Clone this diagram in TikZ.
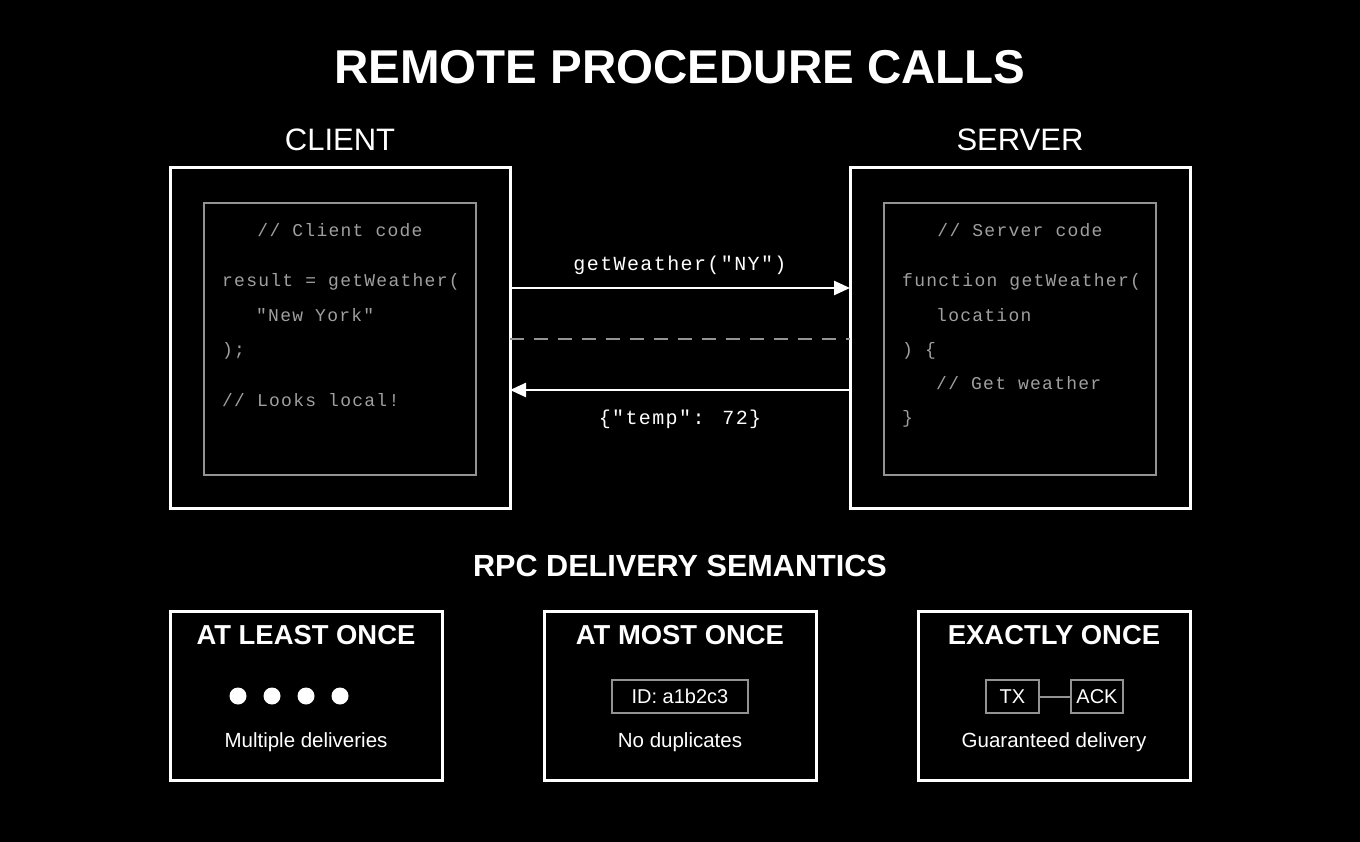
\documentclass[tikz,border=0pt]{standalone}
\usepackage{fontspec}
\setmainfont{Liberation Sans}
\newfontfamily\codefont[LetterSpace=7]{Liberation Mono}
\usetikzlibrary{arrows.meta}
\begin{document}
\begin{tikzpicture}[x=1pt,y=-1pt,
 outer/.style={draw=white,line width=3pt},
 inner/.style={draw=gray!85,line width=2pt},
 code/.style={text=gray!75!white,font=\codefont\fontsize{18}{20}\selectfont,anchor=base west,inner sep=0},
 msg/.style={text=white,font=\codefont\fontsize{20}{22}\selectfont,anchor=base,inner sep=0},
 ttl/.style={text=white,font=\fontsize{27.4}{30}\selectfont\bfseries,anchor=base},
 sub/.style={text=white,font=\fontsize{20.5}{24}\selectfont,anchor=base},
 arr/.style={draw=white,line width=2.5pt,-{Triangle[length=16pt,width=14pt]}},
 small/.style={draw=gray!85,line width=2pt,minimum height=33pt,inner sep=0,text=white,font=\fontsize{20}{24}\selectfont}]
\fill[black] (0,0) rectangle (1360,842);
\useasboundingbox (0,0) rectangle (1360,842);
\node[text=white,font=\fontsize{47.5}{52}\selectfont\bfseries,anchor=base] (title) at (680,84) {REMOTE PROCEDURE CALLS};
\node[text=white,font=\fontsize{31}{36}\selectfont,anchor=base] (cl) at (340,151) {CLIENT};
\node[text=white,font=\fontsize{31}{36}\selectfont,anchor=base] (sv) at (1020,151) {SERVER};
\draw[outer] (170,168) rectangle (510,508);
\draw[inner] (204,203) rectangle (476,475);
\draw[outer] (850,168) rectangle (1190,508);
\draw[inner] (884,203) rectangle (1156,475);
\coordinate (cA) at (510,288); \coordinate (sA) at (850,288);
\coordinate (cB) at (510,339); \coordinate (sB) at (850,339);
\coordinate (cC) at (510,390); \coordinate (sC) at (850,390);
\node[code,anchor=base] (c0) at (340,237) {// Client code};
\node[code] (c1) at (222,287) {result = getWeather(};
\node[code] (c2) at (256,321) {"New York"};
\node[code] (c3) at (222,355) {);};
\node[code] (c4) at (222,406) {// Looks local!};
\node[code,anchor=base] (s0) at (1020,237) {// Server code};
\node[code] (s1) at (902,287) {function getWeather(};
\node[code] (s2) at (936,321) {location};
\node[code] (s3) at (902,355) {) \{};
\node[code] (s4) at (936,389) {// Get weather};
\node[code] (s5) at (902,423) {\}};
\draw[arr] (cA) -- (sA);
\draw[draw=gray!85,line width=2.5pt,dash pattern=on 14pt off 10pt] (cB) -- (sB);
\draw[arr] (sC) -- (cC);
\node[msg] (m1) at (680,271) {getWeather("NY")};
\node[msg] (m2) at (680,424) {\{"temp": 72\}};
\node[text=white,font=\fontsize{30.6}{34}\selectfont\bfseries,anchor=base] (rpc) at (680,576) {RPC DELIVERY SEMANTICS};
\draw[outer] (170,611) rectangle (442,780);
\draw[outer] (544,611) rectangle (816,780);
\draw[outer] (918,611) rectangle (1190,780);
\node[ttl] (t1) at (306,644) {AT LEAST ONCE};
\node[ttl] (t2) at (680,644) {AT MOST ONCE};
\node[ttl] (t3) at (1054,644) {EXACTLY ONCE};
\foreach \x [count=\i] in {238,272,306,340}{\fill[white] (\x,696) circle (8.5pt);}
\node[sub] (d1) at (306,747) {Multiple deliveries};
\node[sub] (d2) at (680,747) {No duplicates};
\node[sub] (d3) at (1054,747) {Guaranteed delivery};
\node[small,minimum width=136pt] (id) at (680,696.5) {ID: a1b2c3};
\node[small,minimum width=53pt] (tx) at (1012.5,696.5) {TX};
\node[small,minimum width=52pt] (ack) at (1097,696.5) {ACK};
\draw[gray!85,line width=2pt] (tx) -- (ack);
\end{tikzpicture}
\end{document}
